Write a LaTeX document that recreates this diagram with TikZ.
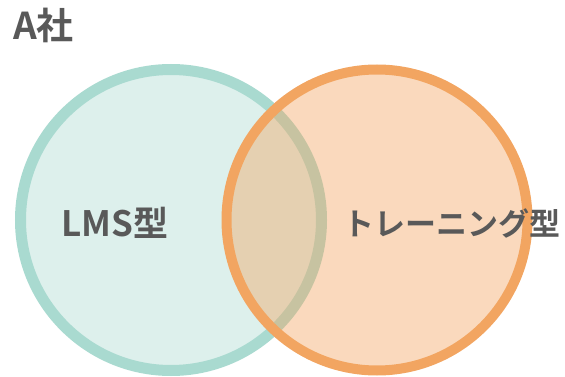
\documentclass[tikz,border=0pt]{standalone}
\usepackage{fontspec}
\newfontfamily\jp{Noto Sans CJK JP}[BoldFont={Noto Sans CJK JP Bold}]
\definecolor{tealline}{HTML}{A9DAD0}
\definecolor{tealfill}{HTML}{DDF0EC}
\definecolor{orangeline}{HTML}{F2A561}
\definecolor{txt}{HTML}{595959}
\tikzset{
  lbl/.style={text=txt, font=\jp\bfseries, inner sep=0pt},
}
\begin{document}
\begin{tikzpicture}[x=1pt,y=-1pt]
\useasboundingbox (0,0) rectangle (565,377);
\node[lbl, font=\jp\bfseries\fontsize{37}{37}\selectfont, anchor=west] (title) at (13,25) {A社};
\draw[tealline, line width=11pt, fill=tealfill] (171,220) circle[radius=150.5];
\fill[orangeline, fill opacity=0.42] (377,220) circle[radius=150.5];
\draw[orangeline, line width=10pt] (377,220) circle[radius=150.5];
\node[lbl, font=\jp\bfseries\fontsize{35}{35}\selectfont] (lms) at (115,223) {LMS型};
\node[lbl, font=\jp\bfseries\fontsize{31}{31}\selectfont] (tr) at (452,223) {トレーニング型};
\end{tikzpicture}
\end{document}
